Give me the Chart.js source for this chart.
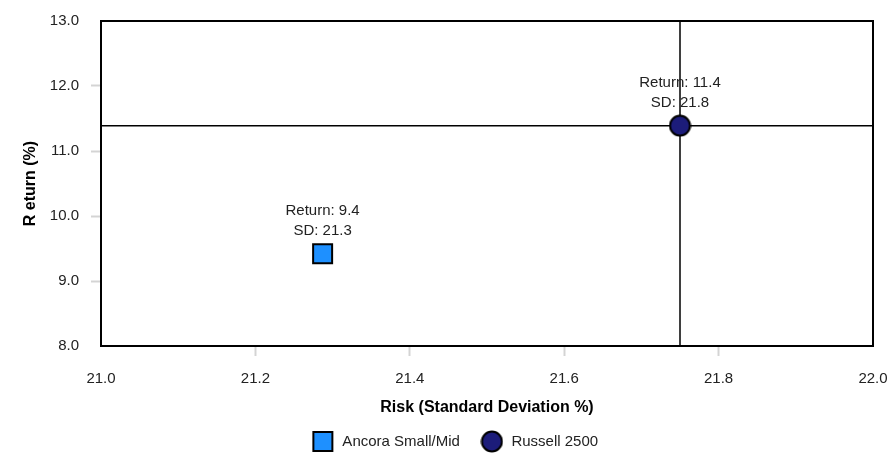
<!DOCTYPE html>
<html>
<head>
<meta charset="utf-8">
<script src="https://cdn.jsdelivr.net/npm/chart.js@4/dist/chart.umd.min.js"></script>
<style>
  html, body { margin: 0; padding: 0; background: #fff; }
  #wrap { width: 888px; height: 459px; }
</style>
</head>
<body>
<div id="wrap"><canvas id="riskChart" width="888" height="459"></canvas></div>
<script>
// Series data (risk = SD %, return = %)
const seriesNames = ["Ancora Small/Mid", "Russell 2500"];
const riskValues = [21.287, 21.75];
const returnValues = [9.42, 11.39];
const seriesColors = ["#1e90ff", "#1c1c7a"];
const seriesShapes = ["rect", "circle"];

// Axis ticks
const xTicks = [21.0, 21.2, 21.4, 21.6, 21.8, 22.0];
const yTicks = [8.0, 9.0, 10.0, 11.0, 12.0, 13.0];

// crosshair sits on the benchmark
const benchIndex = 1;

const FONT = "'Liberation Sans', Arial, sans-serif";

// little marker images so plot and legend use the same shape
function makeMarker(shape, color) {
  const c = document.createElement("canvas");
  c.width = 23;
  c.height = 23;
  const g = c.getContext("2d");
  g.fillStyle = color;
  g.strokeStyle = "#000";
  g.lineWidth = 2;
  if (shape === "rect") {
    g.fillRect(2, 2, 19, 19);
    g.strokeRect(2, 2, 19, 19);
  } else {
    g.beginPath();
    g.arc(11.5, 11.5, 10, 0, Math.PI * 2);
    g.fill();
    g.stroke();
  }
  return c;
}

const markers = seriesShapes.map((s, i) => makeMarker(s, seriesColors[i]));

const frameAndCross = {
  id: "frameAndCross",
  beforeDatasetsDraw(chart) {
    const { ctx, chartArea: a, scales } = chart;
    const cx = scales.x.getPixelForValue(riskValues[benchIndex]);
    const cy = scales.y.getPixelForValue(returnValues[benchIndex]);
    ctx.save();
    ctx.strokeStyle = "#000";
    ctx.lineWidth = 1.5;
    ctx.beginPath();
    ctx.moveTo(cx, a.top);
    ctx.lineTo(cx, a.bottom);
    ctx.moveTo(a.left, cy);
    ctx.lineTo(a.right, cy);
    ctx.stroke();
    ctx.lineWidth = 2;
    ctx.strokeRect(a.left, a.top, a.right - a.left, a.bottom - a.top);
    ctx.restore();
  },
};

const pointLabels = {
  id: "pointLabels",
  afterDatasetsDraw(chart) {
    const { ctx, scales } = chart;
    ctx.save();
    ctx.font = "15px " + FONT;
    ctx.fillStyle = "#222";
    ctx.textAlign = "center";
    ctx.textBaseline = "middle";
    riskValues.forEach((r, i) => {
      const px = scales.x.getPixelForValue(r);
      const py = scales.y.getPixelForValue(returnValues[i]);
      ctx.fillText("Return: " + returnValues[i].toFixed(1), px, py - 43);
      ctx.fillText("SD: " + r.toFixed(1), px, py - 23);
    });
    ctx.restore();
  },
};

const endTransparent = (ticks) => (c) =>
  c.index === 0 || c.index === ticks.length - 1 ? "rgba(0,0,0,0)" : "#d4d4d4";

new Chart(document.getElementById("riskChart").getContext("2d"), {
  type: "scatter",
  data: {
    datasets: seriesNames.map((name, i) => ({
      label: name,
      data: [{ x: riskValues[i], y: returnValues[i] }],
      pointStyle: markers[i],
      backgroundColor: seriesColors[i],
      borderColor: "#000",
    })),
  },
  options: {
    responsive: false,
    animation: false,
    events: [],
    layout: { padding: { left: 21, right: 0, top: 19, bottom: 0 } },
    scales: {
      x: {
        type: "linear",
        min: 21,
        max: 22,
        afterBuildTicks: (s) => { s.ticks = xTicks.map((v) => ({ value: v })); },
        afterFit: (s) => {
          s.height = 68;
          s.paddingLeft = 0;
          s.paddingRight = 15;
        },
        ticks: {
          callback: (v) => Number(v).toFixed(1),
          font: { family: FONT, size: 15 },
          color: "#222",
          padding: 14,
          maxRotation: 0,
        },
        grid: {
          drawOnChartArea: false,
          drawTicks: true,
          tickLength: 10,
          tickWidth: 2,
          color: endTransparent(xTicks),
        },
        border: { display: false },
        title: {
          display: true,
          text: "Risk (Standard Deviation %)",
          font: { family: FONT, size: 16, weight: "bold" },
          color: "#000",
          padding: { top: 0, bottom: -3 },
        },
      },
      y: {
        type: "linear",
        min: 8,
        max: 13,
        afterBuildTicks: (s) => { s.ticks = yTicks.map((v) => ({ value: v })); },
        afterFit: (s) => { s.width = 80; },
        ticks: {
          callback: (v) => Number(v).toFixed(1),
          font: { family: FONT, size: 15 },
          color: "#222",
          padding: 12,
        },
        grid: {
          drawOnChartArea: false,
          drawTicks: true,
          tickLength: 10,
          tickWidth: 2,
          color: endTransparent(yTicks),
        },
        border: { display: false },
        title: {
          display: true,
          text: "R eturn (%)",
          font: { family: FONT, size: 16, weight: "bold" },
          color: "#000",
          padding: { top: 0, bottom: 0 },
        },
      },
    },
    plugins: {
      legend: {
        display: true,
        position: "bottom",
        labels: {
          usePointStyle: true,
          pointStyleWidth: 24,
          font: { family: FONT, size: 15 },
          color: "#222",
          padding: 20,
        },
      },
      tooltip: { enabled: false },
    },
  },
  plugins: [frameAndCross, pointLabels],
});
</script>
</body>
</html>
